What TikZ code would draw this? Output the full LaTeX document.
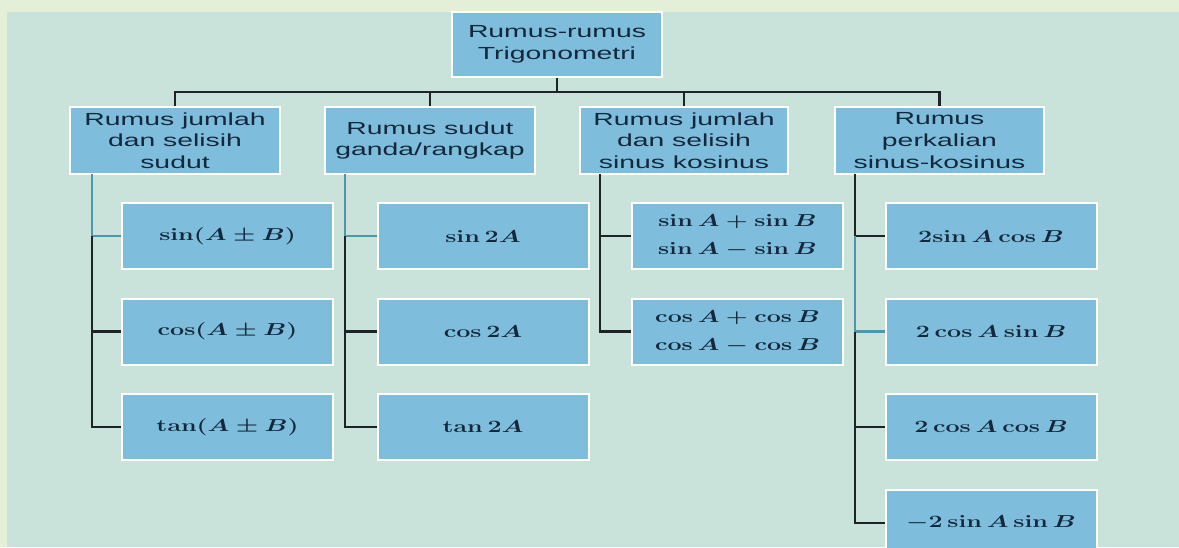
\documentclass[tikz,border=0pt]{standalone}
\usepackage[no-math]{fontspec}
\usepackage{graphicx}
\setmainfont{Liberation Sans}[FakeStretch=1.62]
\definecolor{outerbg}{HTML}{E3EFD6}
\definecolor{panelbg}{HTML}{C9E3DA}
\definecolor{boxfill}{HTML}{7EBEDC}
\definecolor{linkteal}{HTML}{4E97A8}
\definecolor{linkdark}{HTML}{1E2426}
\definecolor{inktext}{HTML}{13283C}
% wide math, matching the stretched sans text
\newcommand{\wm}[1]{\scalebox{1.45}[1]{\boldmath$#1$}}
\begin{document}
\begin{tikzpicture}[x=1pt,y=-1pt,
  box/.style={draw=white, line width=2pt, fill=boxfill, text=inktext,
    minimum width=210pt, minimum height=66pt, inner sep=0pt, align=center},
  headbox/.style={box, font=\fontsize{17.5}{21.7}\selectfont},
  mathbox/.style={box, minimum width=211pt, font=\fontsize{19}{28}\selectfont},
  dark/.style={draw=linkdark, line width=2.2pt},
  light/.style={draw=linkteal, line width=2.2pt}]
\useasboundingbox (0,0) rectangle (1179,547);
\fill[outerbg] (0,0) rectangle (1179,547);
\fill[panelbg] (7,12) rectangle (1179,547);

% root and the four groups
\node[headbox, minimum height=65pt] (top) at (557,44.5) {Rumus-rumus\\Trigonometri};
\node[headbox, minimum height=67pt] (h1) at (175,140.5) {Rumus jumlah\\dan selisih\\sudut};
\node[headbox, minimum height=67pt] (h2) at (430,140.5) {Rumus sudut\\ganda/rangkap};
\node[headbox, minimum height=67pt, minimum width=208pt] (h3) at (684,140.5) {Rumus jumlah\\dan selisih\\sinus kosinus};
\node[headbox, minimum height=67pt, minimum width=209pt] (h4) at (939.5,140.5) {Rumus\\perkalian\\sinus-kosinus};

% formulas
\node[mathbox] (a1) at (227.5,236) {\wm{\sin(A\pm B)}};
\node[mathbox] (a2) at (227.5,331.5) {\wm{\cos(A\pm B)}};
\node[mathbox] (a3) at (227.5,427) {\wm{\tan(A\pm B)}};
\node[mathbox] (b1) at (483,236) {\wm{\sin 2A}};
\node[mathbox] (b2) at (483,331.5) {\wm{\cos 2A}};
\node[mathbox] (b3) at (483,427) {\wm{\tan 2A}};
\node[mathbox] (c1) at (737.5,236) {\wm{\sin A+\sin B}\\\wm{\sin A-\sin B}};
\node[mathbox] (c2) at (737.5,331.5) {\wm{\cos A+\cos B}\\\wm{\cos A-\cos B}};
\node[mathbox] (d1) at (991,236) {\wm{2\!\sin A\cos B}};
\node[mathbox] (d2) at (991,331.5) {\wm{2\cos A\sin B}};
\node[mathbox] (d3) at (991,427) {\wm{2\cos A\cos B}};
\node[mathbox] (d4) at (991,523) {\wm{-2\sin A\sin B}};

% top-level bus
\coordinate (bus) at (557,92);
\draw[dark] (top.south) -- (top.south |- bus);
\draw[dark] (h1.north) -- (h1.north |- bus) -- (h4.north |- bus) -- (h4.north);
\draw[dark] (h2.north) -- (h2.north |- bus);
\draw[dark] (h3.north) -- (h3.north |- bus);

% spines under each group
\coordinate (s1) at (92,174);
\coordinate (s2) at (345,174);
\coordinate (s3) at (600,174);
\coordinate (s4) at (855,174);

\draw[light] (s1) |- (a1.west);
\draw[dark] (s1 |- a1.west) |- (a2.west);
\draw[dark] (s1 |- a1.west) |- (a3.west);

\draw[light] (s2) |- (b1.west);
\draw[dark] (s2 |- b1.west) |- (b2.west);
\draw[dark] (s2 |- b1.west) |- (b3.west);

\draw[dark] (s3) |- (c1.west);
\draw[dark] (s3) |- (c2.west);

\draw[dark] (s4) |- (d1.west);
\draw[light] (s4 |- d1.west) |- (d2.west);
\draw[dark] (s4 |- d2.west) |- (d3.west);
\draw[dark] (s4 |- d2.west) |- (d4.west);
\end{tikzpicture}
\end{document}
